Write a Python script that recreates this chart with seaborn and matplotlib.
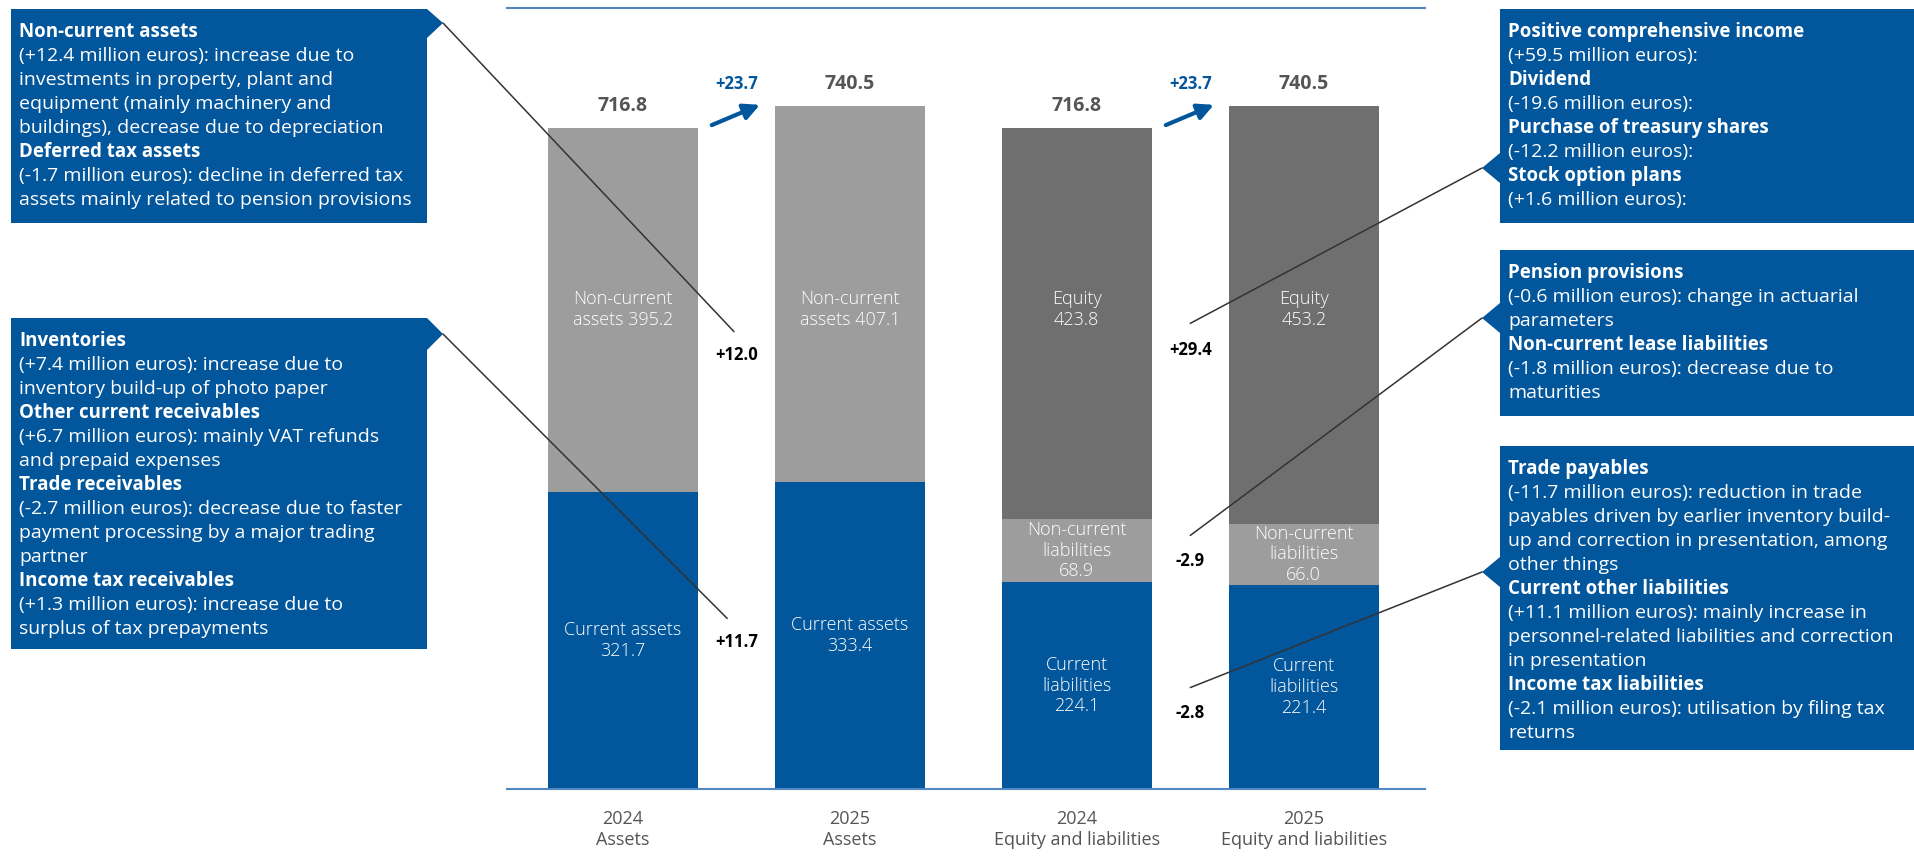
import matplotlib
matplotlib.use("Agg")
import matplotlib.pyplot as plt
from matplotlib import font_manager
from matplotlib.patches import Polygon, Rectangle, ConnectionPatch
import seaborn as sns
import pandas as pd

# ---- balance sheet data (million euros) ----
categories = ["2024\nAssets", "2025\nAssets",
              "2024\nEquity and liabilities", "2025\nEquity and liabilities"]
current_part = [321.7, 333.4, 224.1, 221.4]        # current assets / current liabilities
non_current_liab = [0.0, 0.0, 68.9, 66.0]           # only on the liabilities side
upper_part = [395.2, 407.1, 423.8, 453.2]           # non-current assets / equity
totals = [716.8, 740.5, 716.8, 740.5]
total_change = "+23.7"

current_names = ["Current assets", "Current assets", "Current\nliabilities", "Current\nliabilities"]
upper_names = ["Non-current\nassets ", "Non-current\nassets ", "Equity\n", "Equity\n"]
ncl_name = "Non-current\nliabilities"

delta_labels = ["+12.0", "+11.7", "+29.4", "-2.9", "-2.8"]

# ---- explanatory notes ----
note_noncurrent_assets = [
    ("Non-current assets", True),
    ("(+12.4 million euros): increase due to", False),
    ("investments in property, plant and", False),
    ("equipment (mainly machinery and", False),
    ("buildings), decrease due to depreciation", False),
    ("Deferred tax assets", True),
    ("(-1.7 million euros): decline in deferred tax", False),
    ("assets mainly related to pension provisions", False),
]
note_current_assets = [
    ("Inventories", True),
    ("(+7.4 million euros): increase due to", False),
    ("inventory build-up of photo paper", False),
    ("Other current receivables", True),
    ("(+6.7 million euros): mainly VAT refunds", False),
    ("and prepaid expenses", False),
    ("Trade receivables", True),
    ("(-2.7 million euros): decrease due to faster", False),
    ("payment processing by a major trading", False),
    ("partner", False),
    ("Income tax receivables", True),
    ("(+1.3 million euros): increase due to", False),
    ("surplus of tax prepayments", False),
]
note_equity = [
    ("Positive comprehensive income", True),
    ("(+59.5 million euros):", False),
    ("Dividend", True),
    ("(-19.6 million euros):", False),
    ("Purchase of treasury shares", True),
    ("(-12.2 million euros):", False),
    ("Stock option plans", True),
    ("(+1.6 million euros):", False),
]
note_noncurrent_liab = [
    ("Pension provisions", True),
    ("(-0.6 million euros): change in actuarial", False),
    ("parameters", False),
    ("Non-current lease liabilities", True),
    ("(-1.8 million euros): decrease due to", False),
    ("maturities", False),
]
note_current_liab = [
    ("Trade payables", True),
    ("(-11.7 million euros): reduction in trade", False),
    ("payables driven by earlier inventory build-", False),
    ("up and correction in presentation, among", False),
    ("other things", False),
    ("Current other liabilities", True),
    ("(+11.1 million euros): mainly increase in", False),
    ("personnel-related liabilities and correction", False),
    ("in presentation", False),
    ("Income tax liabilities", True),
    ("(-2.1 million euros): utilisation by filing tax", False),
    ("returns", False),
]

# ---- styling ----
BLUE = "#02569b"
LIGHT_GREY = "#9d9d9d"
DARK_GREY = "#6f6f6f"
RULE = "#4f88c2"
LABEL_GREY = "#555555"

sns.set_style("white")
plt.rcParams["font.family"] = ["Open Sans", "DejaVu Sans"]

# use a light cut for the in-bar labels when the family provides one
_light = any(f.name == "Open Sans" and f.weight in (300, "light")
             for f in font_manager.fontManager.ttflist)
SEG_WEIGHT = "light" if _light else "normal"

W, H = 1915, 859
fig = plt.figure(figsize=(W / 100, H / 100), dpi=100)

# main axes: baseline at 789 px from the top, top rule at 8 px
ax = fig.add_axes([507 / W, (H - 789) / H, 918 / W, 781 / H])

df = pd.DataFrame({
    "cat": categories,
    "current": current_part,
    "ncl": non_current_liab,
    "upper": upper_part,
})
df["stack_top"] = df["current"] + df["ncl"] + df["upper"]
df["stack_mid"] = df["current"] + df["ncl"]

top_colors = {categories[0]: LIGHT_GREY, categories[1]: LIGHT_GREY,
              categories[2]: DARK_GREY, categories[3]: DARK_GREY}
bar_kw = dict(order=categories, width=0.66, saturation=1, linewidth=0, ax=ax)

sns.barplot(data=df, x="cat", y="stack_top", hue="cat", palette=top_colors,
            hue_order=categories, dodge=False, legend=False, **bar_kw)
sns.barplot(data=df[df["ncl"] > 0], x="cat", y="stack_mid", color=LIGHT_GREY, **bar_kw)
sns.barplot(data=df, x="cat", y="current", color=BLUE, **bar_kw)

ax.set_xlim(-0.51, 3.534)
ax.set_ylim(0, 847)
ax.set_xlabel("")
ax.set_ylabel("")
ax.set_yticks([])
for side in ["left", "right"]:
    ax.spines[side].set_visible(False)
for side in ["top", "bottom"]:
    ax.spines[side].set_color(RULE)
    ax.spines[side].set_linewidth(1.5)
ax.tick_params(axis="x", length=0, pad=15, labelsize=13, labelcolor=LABEL_GREY)

seg_font = dict(color="white", fontsize=13, fontweight=SEG_WEIGHT, ha="center",
                va="center", linespacing=1.2)
for i, cat in enumerate(categories):
    # totals above bars
    ax.text(i, totals[i] + 24, f"{totals[i]:.1f}", ha="center", va="center",
            fontsize=14, fontweight="bold", color=LABEL_GREY)
    # upper segment (label at fixed height)
    ax.text(i, 520, f"{upper_names[i]}{upper_part[i]:.1f}", **seg_font)
    # current segment
    ax.text(i, current_part[i] / 2, f"{current_names[i]}\n{current_part[i]:.1f}", **seg_font)
    if non_current_liab[i] > 0:
        ax.text(i, current_part[i] + non_current_liab[i] / 2,
                f"{ncl_name}\n{non_current_liab[i]:.1f}", **seg_font)

# change labels between the bars
delta_pos = [(0.5, 471), (0.5, 159), (2.5, 476), (2.5, 247), (2.5, 82)]
for lab, (x, y) in zip(delta_labels, delta_pos):
    ax.text(x, y, lab, ha="center", va="center", fontsize=12, fontweight="bold",
            color="black")

# growth arrows with total change
for x in (0.5, 2.5):
    ax.text(x, 765, total_change, ha="center", va="center", fontsize=12,
            fontweight="bold", color=BLUE)
    ax.annotate("", xy=(x + 0.104, 742), xytext=(x - 0.108, 720),
                arrowprops=dict(arrowstyle="-|>", color=BLUE, lw=3,
                                mutation_scale=24, shrinkA=0, shrinkB=0))

# ---- overlay for note boxes (pixel coordinates) ----
ov = fig.add_axes([0, 0, 1, 1])
ov.set_xlim(0, W)
ov.set_ylim(H, 0)
ov.axis("off")
ov.patch.set_alpha(0)

boxes = [
    # (x0, y0, x1, y1, pointer polygon, text lines, anchor in main axes)
    (11, 9, 427, 223, [(427, 9), (443, 23), (427, 38)], note_noncurrent_assets, (0.49, 496)),
    (11, 318, 427, 649, [(427, 318), (443, 334), (427, 350)], note_current_assets, (0.46, 185)),
    (1500, 9, W, 223, [(1500, 153), (1482, 168), (1500, 183)], note_equity, (2.5, 505)),
    (1500, 250, W, 416, [(1500, 303), (1482, 318), (1500, 333)], note_noncurrent_liab, (2.5, 275)),
    (1500, 446, W, 750, [(1500, 557), (1482, 572), (1500, 587)], note_current_liab, (2.5, 110)),
]
for x0, y0, x1, y1, ptr, lines, anchor in boxes:
    ov.add_patch(Rectangle((x0, y0), x1 - x0, y1 - y0, facecolor=BLUE, edgecolor="none"))
    ov.add_patch(Polygon(ptr, closed=True, facecolor=BLUE, edgecolor="none"))
    for k, (txt, bold) in enumerate(lines):
        ov.text(x0 + 8, y0 + 23 + 24 * k, txt, ha="left", va="center",
                fontsize=13.5 if bold else 14,
                fontweight="bold" if bold else "normal", color="white")
    tip = ptr[1]
    con = ConnectionPatch(xyA=tip, coordsA=ov.transData, xyB=anchor, coordsB=ax.transData,
                          color="#333333", lw=1.1)
    fig.add_artist(con)

fig.savefig("out.png", dpi=100)
